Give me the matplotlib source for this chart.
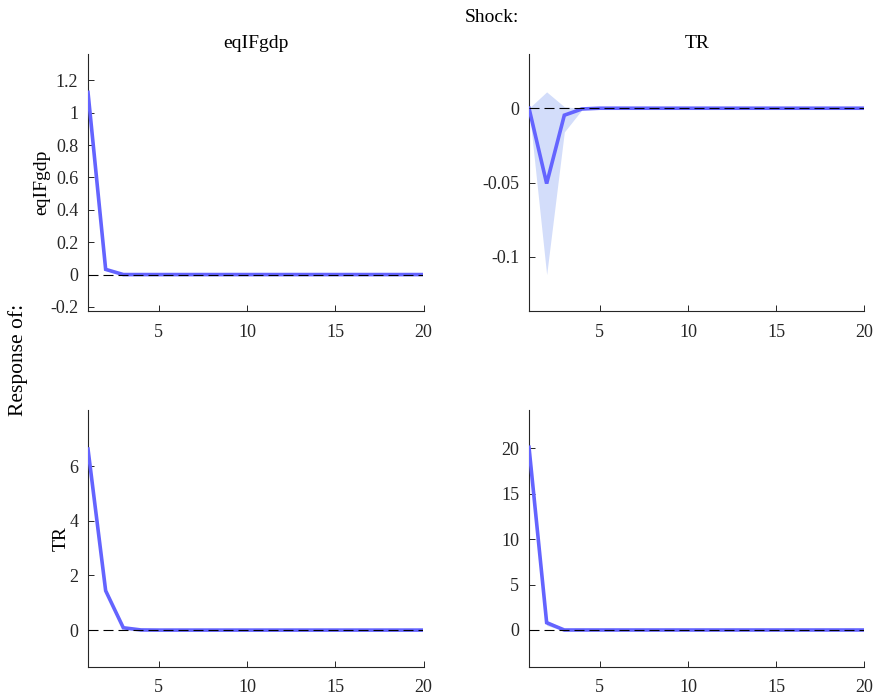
import numpy as np
import matplotlib
matplotlib.use('Agg')
from matplotlib import pyplot as plt
from matplotlib.ticker import FuncFormatter

plt.rcParams['font.family'] = ['Liberation Serif', 'DejaVu Serif']
plt.rcParams['axes.unicode_minus'] = False

# horizons
h = np.arange(1, 21)
shocks = ['eqIFgdp', 'TR']
responses = ['eqIFgdp', 'TR']

# impulse responses (row = response, col = shock), 20 periods
irf_eq_eq = [1.125, 0.032, 0.0, 0, 0, 0, 0, 0, 0, 0, 0, 0, 0, 0, 0, 0, 0, 0, 0, 0]
lo_eq_eq = [1.115, 0.025, -0.002, 0, 0, 0, 0, 0, 0, 0, 0, 0, 0, 0, 0, 0, 0, 0, 0, 0]
hi_eq_eq = [1.135, 0.040, 0.002, 0, 0, 0, 0, 0, 0, 0, 0, 0, 0, 0, 0, 0, 0, 0, 0, 0]

irf_eq_tr = [0.0, -0.0507, -0.0047, -0.0005, 0, 0, 0, 0, 0, 0, 0, 0, 0, 0, 0, 0, 0, 0, 0, 0]
lo_eq_tr = [0.0, -0.112, -0.016, -0.001, 0, 0, 0, 0, 0, 0, 0, 0, 0, 0, 0, 0, 0, 0, 0, 0]
hi_eq_tr = [0.0, 0.011, 0.001, -0.0002, 0, 0, 0, 0, 0, 0, 0, 0, 0, 0, 0, 0, 0, 0, 0, 0]

irf_tr_eq = [6.62, 1.44, 0.085, 0.005, 0, 0, 0, 0, 0, 0, 0, 0, 0, 0, 0, 0, 0, 0, 0, 0]
lo_tr_eq = [6.55, 1.38, 0.06, 0.0, 0, 0, 0, 0, 0, 0, 0, 0, 0, 0, 0, 0, 0, 0, 0, 0]
hi_tr_eq = [6.70, 1.50, 0.11, 0.01, 0, 0, 0, 0, 0, 0, 0, 0, 0, 0, 0, 0, 0, 0, 0, 0]

irf_tr_tr = [20.1, 0.8, 0.0, 0, 0, 0, 0, 0, 0, 0, 0, 0, 0, 0, 0, 0, 0, 0, 0, 0]
lo_tr_tr = [20.0, 0.5, -0.1, 0, 0, 0, 0, 0, 0, 0, 0, 0, 0, 0, 0, 0, 0, 0, 0, 0]
hi_tr_tr = [20.2, 1.1, 0.1, 0, 0, 0, 0, 0, 0, 0, 0, 0, 0, 0, 0, 0, 0, 0, 0, 0]

panels = [[(irf_eq_eq, lo_eq_eq, hi_eq_eq), (irf_eq_tr, lo_eq_tr, hi_eq_tr)],
          [(irf_tr_eq, lo_tr_eq, hi_tr_eq), (irf_tr_tr, lo_tr_tr, hi_tr_tr)]]

ylims = [[(-0.225, 1.362), (-0.1365, 0.0365)],
         [(-1.35, 8.05), (-4.07, 24.2)]]
yticks = [[[-0.2, 0, 0.2, 0.4, 0.6, 0.8, 1, 1.2], [-0.1, -0.05, 0]],
          [[0, 2, 4, 6], [0, 5, 10, 15, 20]]]

W, H = 878, 696
fig = plt.figure(figsize=(W / 100, H / 100), dpi=100)

lefts = [88, 529]
tops = [54, 410]
aw, ah = 335.5, 257

fmt = FuncFormatter(lambda v, p: '%g' % round(v, 6))

for i in range(2):
    for j in range(2):
        ax = fig.add_axes([lefts[j] / W, 1 - (tops[i] + ah) / H, aw / W, ah / H])
        irf, lo, hi = panels[i][j]
        ax.fill_between(h, lo, hi, color='#d3ddfa', lw=0, zorder=1)
        ax.plot(h, irf, color='#6464ff', lw=2.6, solid_joinstyle='miter', zorder=2.6)
        ax.axhline(0, color='k', ls=(0, (9, 4.5)), lw=0.8, zorder=3)
        ax.set_xlim(1, 20)
        ax.set_ylim(*ylims[i][j])
        ax.set_xticks([5, 10, 15, 20])
        ax.set_yticks(yticks[i][j])
        ax.yaxis.set_major_formatter(fmt)
        ax.spines['top'].set_visible(False)
        ax.spines['right'].set_visible(False)
        for s in ('left', 'bottom'):
            ax.spines[s].set_color('#262626')
            ax.spines[s].set_linewidth(0.8)
        ax.tick_params(direction='in', length=4, width=0.7, colors='#262626',
                       labelsize=13, labelcolor='#262626')
        ax.tick_params(axis='y', pad=7)
        ax.tick_params(axis='x', pad=9)
        if i == 0:
            ax.set_title(shocks[j], fontsize=14, pad=4)
        if j == 0:
            ax.set_ylabel(responses[i], fontsize=14, labelpad=0)

fig.text(492 / W, 1 - 18 / H, 'Shock:', ha='center', va='center', fontsize=14)
fig.text(18 / W, 1 - 360 / H, 'Response of:', ha='center', va='center',
         rotation=90, fontsize=15.5)

fig.savefig('out.png', dpi=100)
